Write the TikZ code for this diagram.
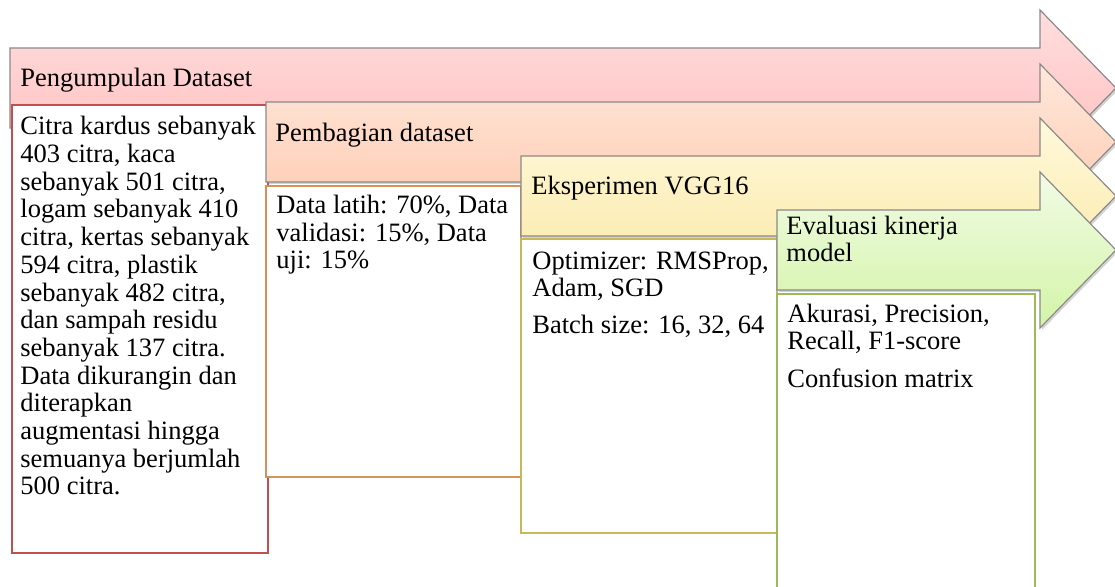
\documentclass[tikz,border=0pt]{standalone}
\usepackage{fontspec}
\setmainfont{Liberation Serif}
\usetikzlibrary{shadows}
\definecolor{edgeGray}{HTML}{8A8A8A}
\definecolor{redTop}{HTML}{FFDEDE}
\definecolor{redBot}{HTML}{FFBDBD}
\definecolor{peachTop}{HTML}{FFE8DC}
\definecolor{peachBot}{HTML}{FDC9AE}
\definecolor{sandTop}{HTML}{FFF9DC}
\definecolor{sandBot}{HTML}{FBE9A8}
\definecolor{limeTop}{HTML}{F2FBE6}
\definecolor{limeBot}{HTML}{D3F4A6}
\definecolor{lineRed}{HTML}{C0504D}
\definecolor{lineOrange}{HTML}{D4935A}
\definecolor{lineSand}{HTML}{C8B85A}
\definecolor{lineLime}{HTML}{9BBB59}

\begin{document}
\begin{tikzpicture}[x=0.5pt, y=-0.5pt,
    every node/.style={font=\fontsize{13.25}{13.85}\selectfont, align=left, inner sep=0pt, anchor=base west},
    band/.style={draw=edgeGray, line width=0.6pt, drop shadow={shadow xshift=1pt, shadow yshift=-1pt, opacity=0.35}},
    card/.style={fill=white, line width=1pt}]
  \useasboundingbox (0,0) rectangle (1115,587);
  \clip (0,0) rectangle (1115,587);
  % stage 1 (multi-line texts sit on their last baseline)
  \draw[band, top color=redTop, bottom color=redBot] (10,48) -- (1040,48) -- (1040,10) -- (1116,88) -- (1040,166) -- (1040,128) -- (10,128) -- cycle;
  \draw[card, draw=lineRed] (12,105) rectangle (268,553);
  \node (collect) at (20,87) {Pengumpulan Dataset};
  \node (collecttext) at (20,495) {Citra kardus sebanyak\\403 citra, kaca\\sebanyak 501 citra,\\logam sebanyak 410\\citra, kertas sebanyak\\594 citra, plastik\\sebanyak 482 citra,\\dan sampah residu\\sebanyak 137 citra.\\Data dikurangin dan\\diterapkan\\augmentasi hingga\\semuanya berjumlah\\500 citra.};
  % stage 2
  \draw[band, top color=peachTop, bottom color=peachBot] (266,102) -- (1040,102) -- (1040,64) -- (1116,142) -- (1040,220) -- (1040,182) -- (266,182) -- cycle;
  \draw[card, draw=lineOrange] (266,186) rectangle (521,477);
  \node (split) at (275,142) {Pembagian dataset};
  \node (splittext) at (276,269) {Data latih: 70\%, Data\\validasi: 15\%, Data\\uji: 15\%};
  % stage 3
  \draw[band, top color=sandTop, bottom color=sandBot] (521,156) -- (1040,156) -- (1040,118) -- (1116,196) -- (1040,274) -- (1040,236) -- (521,236) -- cycle;
  \draw[card, draw=lineSand] (521,239) rectangle (777,533);
  \node (experiment) at (531,195) {Eksperimen VGG16};
  \node (experimenttext) at (532,334) {Optimizer: RMSProp,\\Adam, SGD\\[4.75pt]Batch size: 16, 32, 64};
  % stage 4
  \draw[band, top color=limeTop, bottom color=limeBot] (777,210) -- (1040,210) -- (1040,172) -- (1116,250) -- (1040,328) -- (1040,290) -- (777,290) -- cycle;
  \draw[card, draw=lineLime] (777,294) rectangle (1035,600);
  \node (evaluate) at (786,262) {Evaluasi kinerja\\model};
  \node (evaluatetext) at (787,388) {Akurasi, Precision,\\Recall, F1-score\\[5.25pt]Confusion matrix};
\end{tikzpicture}
\end{document}
